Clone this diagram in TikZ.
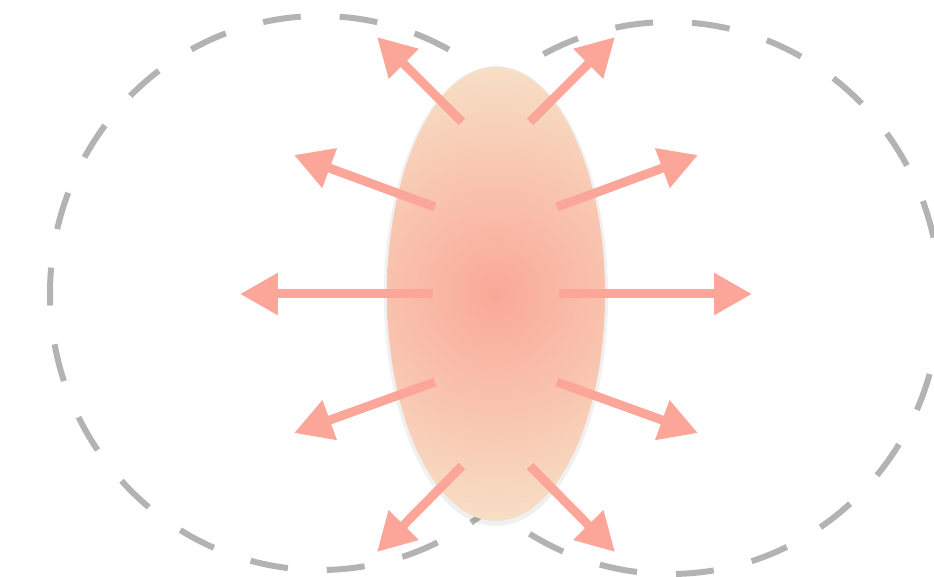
\documentclass[tikz,border=0pt]{standalone}
\usepackage{tikz}
\usetikzlibrary{arrows.meta,calc}

\definecolor{fieldgray}{HTML}{B3B3B3}
\definecolor{coresalmon}{HTML}{FAA898}
\definecolor{corepeach}{HTML}{F7DFC5}
\definecolor{arrowsalmon}{HTML}{FBA698}

\begin{document}
\begin{tikzpicture}[
  x=0.02cm, y=-0.02cm,
  field/.style={draw=fieldgray, line width=0.12cm,
                dash pattern=on 0.76cm off 0.78cm},
  push/.style={draw=arrowsalmon, line width=0.18cm,
               -{Triangle[length=0.76cm, width=0.8cm]}},
]

%% Frame
\clip (0,0) rectangle (934,577);

%% Dashed field lines
\draw[field] (320,293) ellipse [x radius=270, y radius=277];
\draw[field] (670,298) ellipse [x radius=270, y radius=276];

%% Central body
\coordinate (core) at (496,294);
\fill[black, opacity=0.06] ($(core)+(0,2)$) ellipse [x radius=112, y radius=230];
\begin{scope}
  \clip (core) ellipse [x radius=109, y radius=227];
  \shade[inner color=coresalmon, outer color=corepeach] (core) circle (228);
\end{scope}

%% Arrow ends
\coordinate (sw) at (433,294);  \coordinate (tw) at (240,294);
\coordinate (se) at (559,294);  \coordinate (te) at (752,294);
\coordinate (snw) at (435,207); \coordinate (tnw) at (294,155);
\coordinate (sne) at (557,207); \coordinate (tne) at (698,155);
\coordinate (ssw) at (435,382); \coordinate (tsw) at (294,433);
\coordinate (sse) at (557,382); \coordinate (tse) at (698,433);
\coordinate (sn1) at (462,122); \coordinate (tn1) at (377,37);
\coordinate (sn2) at (530,122); \coordinate (tn2) at (615,37);
\coordinate (ss1) at (462,466); \coordinate (ts1) at (377,552);
\coordinate (ss2) at (530,466); \coordinate (ts2) at (615,552);

%% Arrows
\draw[push] (sw) -- (tw);
\draw[push] (se) -- (te);
\draw[push] (snw) -- (tnw);
\draw[push] (sne) -- (tne);
\draw[push] (ssw) -- (tsw);
\draw[push] (sse) -- (tse);
\draw[push] (sn1) -- (tn1);
\draw[push] (sn2) -- (tn2);
\draw[push] (ss1) -- (ts1);
\draw[push] (ss2) -- (ts2);

\end{tikzpicture}
\end{document}
